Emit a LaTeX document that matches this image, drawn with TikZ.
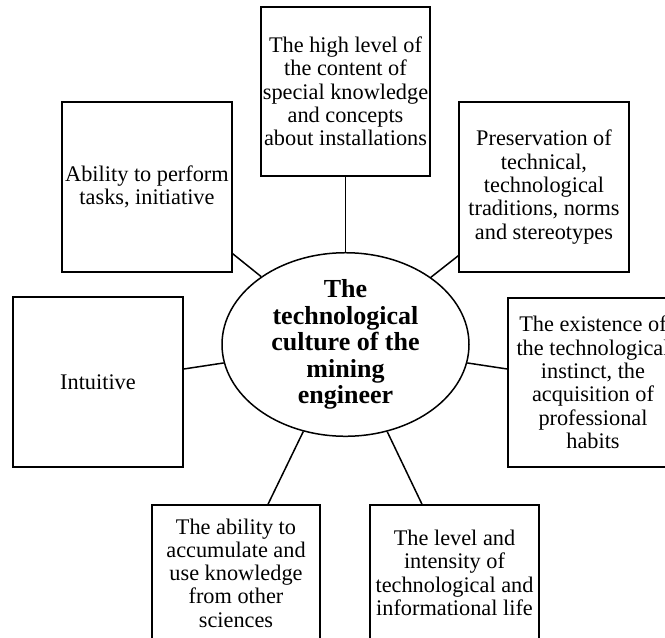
\documentclass[tikz,border=0pt]{standalone}
\usepackage{fontspec}
\setmainfont{Liberation Serif}
\usetikzlibrary{shapes.geometric,calc}
\tikzset{
  sbox/.style={draw, line width=1.5pt, rectangle, inner sep=0pt, align=center,
    font=\fontsize{22.3}{23.3}\selectfont},
  cell/.style={draw, line width=1.5pt, ellipse, inner sep=0pt, align=center,
    minimum width=247pt, minimum height=169pt,
    font=\fontsize{26}{26.5}\selectfont\bfseries},
  link/.style={draw, line width=1.5pt}
}
\begin{document}
\begin{tikzpicture}[x=1pt,y=-1pt]
\useasboundingbox (0,0) rectangle (665,638);
\node[cell] (ell) at (345.5,344.5) {The\\technological\\culture of the\\mining\\engineer};
\node[sbox, minimum width=169pt, minimum height=169pt] (top) at (345.5,91.5)
  {The high level of\\the content of\\special knowledge\\and concepts\\about installations};
\node[sbox, minimum width=170pt, minimum height=170pt] (tl) at (147,187)
  {Ability to perform\\tasks, initiative};
\node[sbox, minimum width=170pt, minimum height=170pt] (tr) at (544,187)
  {Preservation of\\technical,\\technological\\traditions, norms\\and stereotypes};
\node[sbox, minimum width=170pt, minimum height=170pt] (lf) at (98,382)
  {Intuitive};
\node[sbox, minimum width=170pt, minimum height=169pt] (rt) at (593,382.5)
  {The existence of\\the technological\\instinct, the\\acquisition of\\professional\\habits};
\node[sbox, minimum width=168pt, minimum height=136pt] (bl) at (236,573)
  {The ability to\\accumulate and\\use knowledge\\from other\\sciences};
\node[sbox, minimum width=169pt, minimum height=136pt] (br) at (454.5,573)
  {The level and\\intensity of\\technological and\\informational life};
\coordinate (tlA) at ($(tl.south east)+(0,-19)$);
\coordinate (trA) at ($(tr.south west)+(0,-17)$);
\coordinate (lfA) at ($(lf.east)+(0,-13)$);
\coordinate (rtA) at ($(rt.west)+(0,-13.5)$);
\coordinate (blA) at ($(bl.north)+(32,0)$);
\coordinate (brA) at ($(br.north)+(-32.5,0)$);
\draw[link] (top.south) -- (ell);
\draw[link] (tlA) -- (ell);
\draw[link] (trA) -- (ell);
\draw[link] (lfA) -- (ell);
\draw[link] (rtA) -- (ell);
\draw[link] (blA) -- (ell);
\draw[link] (brA) -- (ell);
\end{tikzpicture}
\end{document}
